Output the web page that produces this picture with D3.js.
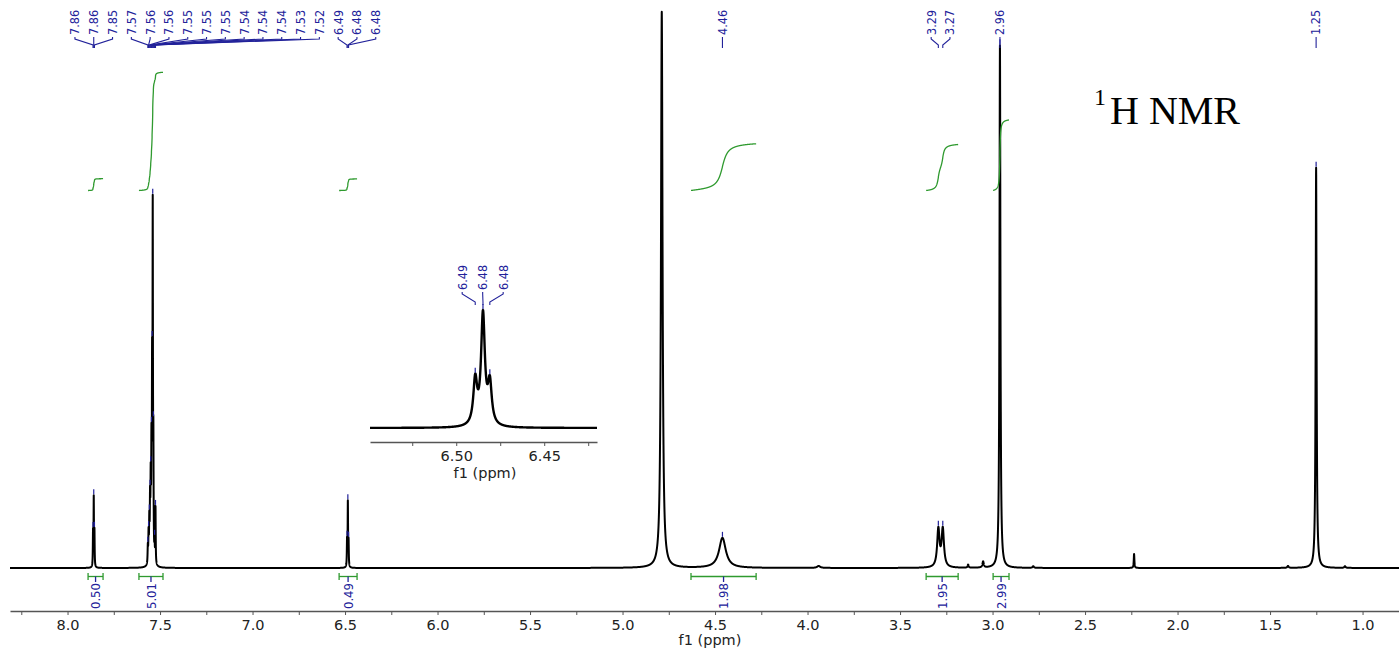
<!DOCTYPE html>
<html>
<head>
<meta charset="utf-8">
<script src="https://cdn.jsdelivr.net/npm/d3@7"></script>
<style>
  body { margin: 0; background: #fff; }
  svg  { display: block; }
</style>
</head>
<body>
<svg id="chart" width="1399" height="650"></svg>
<script>
/* ---- spectrum lines: ppm, height (water = 100), half width (ppm) ---- */
const linePpm    = [7.8622, 7.8583, 7.8545,
                    7.5660, 7.5620, 7.5580, 7.5540, 7.5505, 7.5465, 7.5430, 7.5395, 7.5360, 7.5295, 7.5245,
                    6.4892, 6.4848, 6.4809,
                    4.788, 4.460, 3.940, 3.293, 3.269, 3.132, 3.051, 2.960, 2.780, 2.235, 1.403, 1.251, 1.095];
const lineHeight = [6, 12, 6,
                    3, 5, 7, 10, 13, 18, 30, 60, 18, 3, 10,
                    4.6, 11.4, 4.2,
                    100, 5.4, 0.35, 6.8, 6.8, 0.55, 1.1, 94, 0.3, 2.5, 0.35, 72, 0.3];
const lineHwhm   = [0.0012, 0.0012, 0.0012,
                    0.0015, 0.0015, 0.0015, 0.0015, 0.0015, 0.0015, 0.0013, 0.0013, 0.0013, 0.0012, 0.0012,
                    0.0013, 0.0013, 0.0013,
                    0.005, 0.022, 0.01, 0.0076, 0.0076, 0.003, 0.004, 0.003, 0.004, 0.002, 0.004, 0.003, 0.004];

/* ---- peak picking labels, one array per multiplet ---- */
const peakGroups = [
  [7.8622, 7.8583, 7.8545],
  [7.5660, 7.5620, 7.5580, 7.5540, 7.5505, 7.5465, 7.5430, 7.5395, 7.5360, 7.5295, 7.5245],
  [6.4892, 6.4848, 6.4809],
  [4.460],
  [3.293, 3.269],
  [2.960],
  [1.251]
];
const insetGroup = [6.4892, 6.4848, 6.4809];

/* ---- integrations ---- */
const integFrom  = [7.889, 7.614, 6.532, 4.630, 3.359, 2.997];
const integTo    = [7.808, 7.484, 6.435, 4.278, 3.186, 2.911];
const integValue = [0.50, 5.01, 0.49, 1.98, 1.95, 2.99];

/* ---- axes ---- */
const majorTicks = [8.0, 7.5, 7.0, 6.5, 6.0, 5.5, 5.0, 4.5, 4.0, 3.5, 3.0, 2.5, 2.0, 1.5, 1.0];
const minorTicks = [8.25, 7.75, 7.25, 6.75, 6.25, 5.75, 5.25, 4.75, 4.25, 3.75, 3.25, 2.75, 2.25, 1.75, 1.25];
const insetMajor = [6.50, 6.45];
const insetMinor = [6.525, 6.475, 6.425];

const BLUE = "#22229a", GREEN = "#2f9a2f";
const NARROW = "'Liberation Sans Narrow', 'DejaVu Sans Condensed', 'Arial Narrow', sans-serif";
const SANS = "'DejaVu Sans', Verdana, sans-serif";

const svg = d3.select("#chart");

const x = d3.scaleLinear().domain([8.311, 0.803]).range([10, 1399]);
const y = d3.scaleLinear().domain([0, 100]).range([568, 12]);

function intensity(v) {
  let s = 0;
  for (let i = 0; i < linePpm.length; i++) {
    const d = v - linePpm[i], w = lineHwhm[i];
    s += lineHeight[i] * w * w / (d * d + w * w);
  }
  return s;
}
function sample(a, b, step) {
  const n = Math.round((a - b) / step);
  const vs = d3.range(n + 1).map(i => a - i * step);
  linePpm.forEach(p => { if (p < a && p > b) vs.push(p); });
  vs.sort((p, q) => q - p);
  return vs.map(v => [v, intensity(v)]);
}

function styleAxis(g) {
  g.select(".domain").attr("stroke", "#555").attr("stroke-width", 1.5);
  g.selectAll(".tick line").attr("stroke", "#555");
  g.selectAll(".tick text").attr("font-family", SANS)
    .attr("font-size", 14.5).attr("fill", "#222").attr("dy", "0.8em");
}

/* ---- main axis ---- */
const gAxis = svg.append("g").attr("transform", "translate(0,611)");
gAxis.call(d3.axisBottom(x).tickValues(majorTicks.concat(minorTicks))
  .tickSize(4).tickSizeOuter(0)
  .tickFormat(d => majorTicks.includes(d) ? d.toFixed(1) : ""));
styleAxis(gAxis);
svg.append("text").attr("x", 710).attr("y", 645).attr("text-anchor", "middle")
  .attr("font-family", SANS).attr("font-size", 14.5).attr("fill", "#222")
  .text("f1 (ppm)");

/* ---- spectrum ---- */
const mainPts = sample(8.311, 0.803, 0.0004);
const line = d3.line().x(d => x(d[0])).y(d => y(d[1]));
svg.append("path").datum(mainPts).attr("d", line)
  .attr("fill", "none").attr("stroke", "#000").attr("stroke-width", 2).attr("stroke-linejoin", "round");

/* ---- integral curves + brackets ---- */
const INT_BASE = 190.5, INT_PX = 23.6;
integFrom.forEach((a, k) => {
  const b = integTo[k];
  const pts = sample(a, b, 0.0005);
  let acc = 0;
  const cum = pts.map(d => (acc += d[1], [d[0], acc]));
  const tot = acc;
  svg.append("path").datum(cum)
    .attr("d", d3.line().x(d => x(d[0])).y(d => INT_BASE - d[1] / tot * integValue[k] * INT_PX))
    .attr("fill", "none").attr("stroke", GREEN).attr("stroke-width", 1.3);

  const x0 = x(a), x1 = x(b), xc = (x0 + x1) / 2;
  const g = svg.append("g").attr("stroke", GREEN).attr("stroke-width", 1.3);
  g.append("line").attr("x1", x0).attr("x2", x1).attr("y1", 576.5).attr("y2", 576.5);
  g.append("line").attr("x1", x0).attr("x2", x0).attr("y1", 573).attr("y2", 580);
  g.append("line").attr("x1", x1).attr("x2", x1).attr("y1", 573).attr("y2", 580);
  g.append("line").attr("x1", xc).attr("x2", xc).attr("y1", 576.5).attr("y2", 582).attr("stroke", BLUE);
  svg.append("text").attr("transform", `translate(${xc},583) rotate(-90)`)
    .attr("text-anchor", "end").attr("dy", "0.35em")
    .attr("font-family", NARROW).attr("font-size", 13).attr("fill", BLUE)
    .text(integValue[k].toFixed(2));
});

/* ---- peak labels ---- */
function layout(groups, sx, spacing) {
  const out = [];
  let prev = -Infinity;
  groups.forEach(g => {
    const c = d3.mean(g, sx);
    let start = c - (g.length - 1) * spacing / 2;
    if (start < prev + spacing) start = prev + spacing;
    g.forEach((p, i) => out.push({ ppm: p, lx: start + i * spacing, px: sx(p) }));
    prev = start + (g.length - 1) * spacing;
  });
  return out;
}

function drawLabels(items, yScale, opt) {
  items.forEach(it => {
    svg.append("text").attr("transform", `translate(${it.lx},${opt.textY}) rotate(-90)`)
      .attr("dy", "0.35em").attr("font-family", NARROW).attr("font-size", 12.5).attr("fill", BLUE)
      .text(it.ppm.toFixed(2));
    svg.append("path")
      .attr("d", `M${it.lx},${opt.textY + 2}V${opt.y1}L${it.px},${opt.y2}V${opt.y3}`)
      .attr("fill", "none").attr("stroke", BLUE).attr("stroke-width", 1.1);
    const top = yScale(intensity(it.ppm));
    svg.append("line").attr("x1", it.px).attr("x2", it.px).attr("y1", top - 6).attr("y2", top - 1)
      .attr("stroke", BLUE).attr("stroke-width", 1.2);
  });
}
drawLabels(layout(peakGroups, x, 18.8), y, { textY: 35, y1: 39, y2: 45, y3: 48 });

/* ---- inset ---- */
const xi = d3.scaleLinear().domain([6.549, 6.42]).range([370, 597]);
const yi = d3.scaleLinear().domain([0, 12.4]).range([428, 308]);
const gIn = svg.append("g").attr("transform", "translate(0,442)");
gIn.call(d3.axisBottom(xi).tickValues(insetMajor.concat(insetMinor))
  .tickSize(4).tickSizeOuter(0)
  .tickFormat(d => insetMajor.includes(d) ? d.toFixed(2) : ""));
styleAxis(gIn);
svg.append("text").attr("x", 485).attr("y", 478).attr("text-anchor", "middle")
  .attr("font-family", SANS).attr("font-size", 14.5).attr("fill", "#222")
  .text("f1 (ppm)");
svg.append("path").datum(sample(6.549, 6.42, 0.00005))
  .attr("d", d3.line().x(d => xi(d[0])).y(d => yi(d[1])))
  .attr("fill", "none").attr("stroke", "#000").attr("stroke-width", 2.4).attr("stroke-linejoin", "round");
drawLabels(layout([insetGroup], xi, 20.5), yi, { textY: 290, y1: 294, y2: 302, y3: 305 });

/* ---- title ---- */
const title = svg.append("text").attr("font-family", "'Liberation Serif', 'Times New Roman', serif").attr("fill", "#000");
title.append("tspan").attr("x", 1094).attr("y", 105).attr("font-size", 24).text("1");
title.append("tspan").attr("x", 1110).attr("y", 124).attr("font-size", 40).text("H NMR");
</script>
</body>
</html>
